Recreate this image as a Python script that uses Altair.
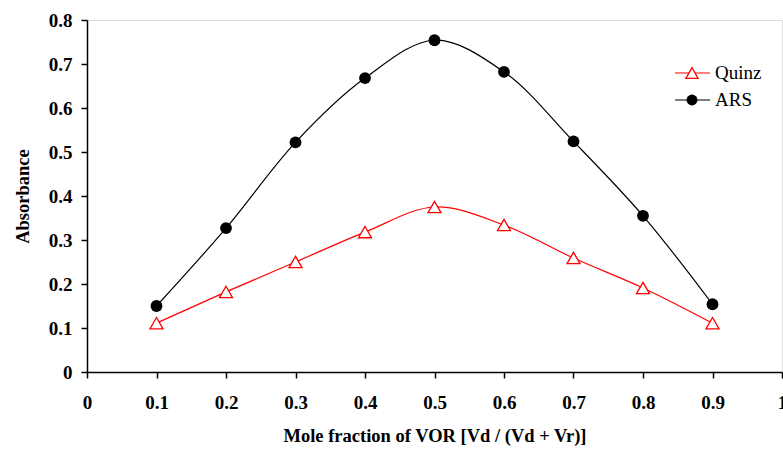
import altair as alt
import pandas as pd

mole_fraction = [0.1, 0.2, 0.3, 0.4, 0.5, 0.6, 0.7, 0.8, 0.9]
ars = [0.150, 0.327, 0.522, 0.668, 0.754, 0.682, 0.524, 0.355, 0.154]
quinz = [0.111, 0.182, 0.250, 0.318, 0.375, 0.334, 0.259, 0.191, 0.111]
x_ticks = [0, 0.1, 0.2, 0.3, 0.4, 0.5, 0.6, 0.7, 0.8, 0.9, 1]
y_ticks = [0, 0.1, 0.2, 0.3, 0.4, 0.5, 0.6, 0.7, 0.8]

df_ars = pd.DataFrame({"x": mole_fraction, "y": ars})
df_quinz = pd.DataFrame({"x": mole_fraction, "y": quinz})

FONT = "Liberation Serif"

xenc = alt.X("x:Q", scale=alt.Scale(domain=[0, 1], nice=False),
             axis=alt.Axis(values=x_ticks, format="~g", title="Mole fraction of VOR [Vd / (Vd + Vr)]",
                           grid=False, domainColor="black", domainWidth=1.5, tickColor="black",
                           tickWidth=1.5, tickSize=6, labelFont=FONT, labelFontSize=19,
                           labelFontWeight="bold", labelColor="black", labelPadding=15,
                           labelFlush=False, titleFont=FONT, titleFontSize=18.5,
                           titleFontWeight="bold", titleColor="black", titlePadding=14))
yenc = alt.Y("y:Q", scale=alt.Scale(domain=[0, 0.8], nice=False),
             axis=alt.Axis(values=y_ticks, format="~g", title="Absorbance",
                           grid=False, domainColor="black", domainWidth=1.5, tickColor="black",
                           tickWidth=1.5, tickSize=6, labelFont=FONT, labelFontSize=19,
                           labelFontWeight="bold", labelColor="black", labelPadding=9,
                           labelFlush=False, titleFont=FONT, titleFontSize=18.5,
                           titleFontWeight="bold", titleColor="black", titlePadding=16))

quinz_line = alt.Chart(df_quinz).mark_line(color="red", strokeWidth=1.2,
                                            interpolate="catmull-rom").encode(x=xenc, y=yenc)
quinz_pts = alt.Chart(df_quinz).mark_point(shape="triangle-up", size=170, filled=True,
                                           fill="white", stroke="red", strokeWidth=1.3,
                                           opacity=1).encode(x=xenc, y=yenc)
ars_line = alt.Chart(df_ars).mark_line(color="black", strokeWidth=1.2,
                                        interpolate="catmull-rom").encode(x=xenc, y=yenc)
ars_pts = alt.Chart(df_ars).mark_point(shape="circle", size=140, filled=True,
                                       color="black", opacity=1).encode(x=xenc, y=yenc)

one = alt.Data(values=[{"a": 1}])
leg_q_rule = alt.Chart(one).mark_rule(color="red", strokeWidth=1.2).encode(
    x=alt.value(588), x2=alt.value(623), y=alt.value(53))
leg_q_pt = alt.Chart(one).mark_point(shape="triangle-up", size=150, filled=True, fill="white",
                                     stroke="red", strokeWidth=1.3, opacity=1).encode(
    x=alt.value(605), y=alt.value(53))
leg_q_txt = alt.Chart(one).mark_text(align="left", baseline="middle", font=FONT, fontSize=19,
                                     color="black").encode(
    x=alt.value(628), y=alt.value(53), text=alt.value("Quinz"))
leg_a_rule = alt.Chart(one).mark_rule(color="black", strokeWidth=1.2).encode(
    x=alt.value(588), x2=alt.value(623), y=alt.value(80))
leg_a_pt = alt.Chart(one).mark_point(shape="circle", size=120, filled=True, color="black",
                                     opacity=1).encode(x=alt.value(605), y=alt.value(80))
leg_a_txt = alt.Chart(one).mark_text(align="left", baseline="middle", font=FONT, fontSize=19,
                                     color="black").encode(
    x=alt.value(628), y=alt.value(80), text=alt.value("ARS"))

chart = alt.layer(
    quinz_line, quinz_pts, ars_line, ars_pts,
    leg_q_rule, leg_q_pt, leg_q_txt, leg_a_rule, leg_a_pt, leg_a_txt
).properties(
    width=695, height=352,
    autosize=alt.AutoSizeParams(type="none"),
    padding={"left": 87, "top": 20, "right": 1, "bottom": 77},
).configure_view(stroke="#444", strokeWidth=1.5).configure(background="white")

chart.save("out.html", embed_options={"renderer": "svg", "actions": False})
